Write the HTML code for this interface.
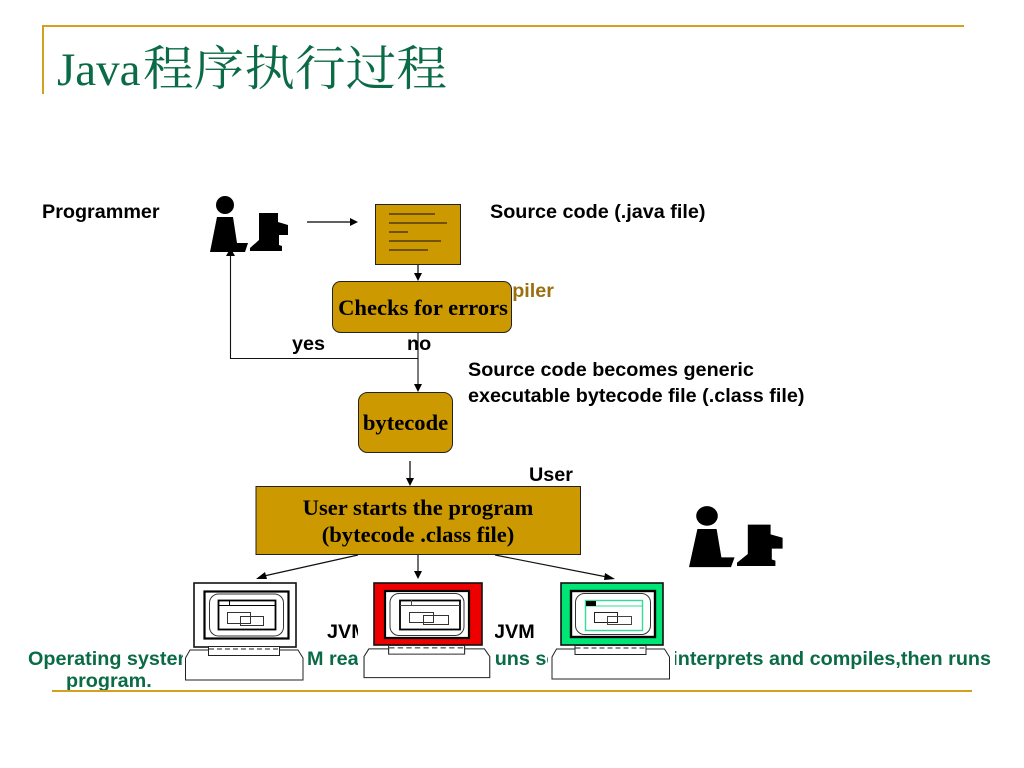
<!DOCTYPE html>
<html><head><meta charset="utf-8"><style>
html,body{margin:0;padding:0;background:#fff;overflow:hidden}
svg{display:block}
.a{font-family:"Liberation Sans",sans-serif;font-weight:bold;font-size:19.8px;fill:#000}
.g{font-family:"Liberation Sans",sans-serif;font-weight:bold;font-size:19.8px;fill:#0b6b47}
.s{font-family:"Liberation Serif",serif;font-weight:bold;font-size:22.6px;fill:#000}
</style></head><body>
<svg width="1024" height="768" viewBox="0 0 1024 768" xmlns="http://www.w3.org/2000/svg">
<defs>
<g id="person">
<circle cx="15" cy="10" r="9"/>
<path d="M7 22H23L27 48H38L35 57H0Z"/>
<path d="M49 18H68V27L78 30V40H69V50L72 51V56H40V53L49 45Z"/>
</g>
<g id="screen">
<rect x="0" y="0" width="84" height="47" fill="#fff" stroke="#000" stroke-width="2.2"/>
<rect x="5" y="2.500" width="74" height="42" rx="9" fill="#fff" stroke="#333" stroke-width="1"/>
</g>
<g id="base">
<path d="M0.500 12L5 4H113L118 12V34H0.500Z" fill="#fff" stroke="#222" stroke-width="1"/>
<rect x="23.500" y="0.500" width="71" height="9" fill="#fff" stroke="#222" stroke-width="1"/>
<path d="M24 3H94" stroke="#222" stroke-width="1" stroke-dasharray="5 3" fill="none"/>
</g>
</defs>

<!-- title frame -->
<path d="M964 26H43V94" fill="none" stroke="#d4a11e" stroke-width="2"/>
<text x="57" y="85" font-family="'Liberation Serif',serif" font-size="47" fill="#0b6b47">Java</text>
<text x="143" y="85" font-family="'Liberation Serif','Noto Serif CJK SC',serif" font-size="48" fill="#0b6b47" textLength="304" lengthAdjust="spacingAndGlyphs">程序执行过程</text>

<!-- top labels -->
<text x="42" y="218" class="a">Programmer</text>
<text x="490" y="218" class="a">Source code (.java file)</text>
<use href="#person" x="210" y="195"/>
<path d="M307 222H350" stroke="#000" stroke-width="1.2"/>
<path d="M350 218L358 222L350 226Z"/>

<!-- source doc -->
<rect x="375.500" y="204.500" width="85" height="60" fill="#cc9900" stroke="#222" stroke-width="1"/>
<g stroke="#3a2800" stroke-width="1.200">
<path d="M389 214H435M389 223H447M389 232H408M389 241H441M389 250H428"/>
</g>
<path d="M418 265V274" stroke="#000" stroke-width="1.200"/>
<path d="M414 273H422L418 281Z"/>

<!-- compiler -->
<text x="554" y="297" text-anchor="end" font-family="'Liberation Sans',sans-serif" font-weight="bold" font-size="19.800" fill="#9a6f10">Compiler</text>
<rect x="332.500" y="281.500" width="179" height="51" rx="8" fill="#cc9900" stroke="#222" stroke-width="1"/>
<text x="423" y="315" class="s" text-anchor="middle">Checks for errors</text>

<text x="292" y="350" class="a">yes</text>
<text x="407" y="350" class="a">no</text>

<path d="M418 333V385M418 358.500H230.500V255" fill="none" stroke="#111" stroke-width="1.100"/>
<path d="M414 384H422L418 392Z"/>
<path d="M226 256L230.500 248L235 256Z"/>

<text x="468" y="376" class="a">Source code becomes generic</text>
<text x="468" y="402" class="a">executable bytecode file (.class file)</text>

<!-- bytecode -->
<rect x="358.500" y="392.500" width="94" height="60" rx="9" fill="#cc9900" stroke="#222" stroke-width="1"/>
<text x="405.500" y="430" class="s" text-anchor="middle">bytecode</text>
<path d="M410 461V479" stroke="#000" stroke-width="1.200"/>
<path d="M406 478H414L410 486Z"/>

<text x="529" y="481" class="a">User</text>
<rect x="256" y="486.500" width="324.500" height="68" fill="#cc9900" stroke="#222" stroke-width="1"/>
<text x="418" y="515" class="s" text-anchor="middle">User starts the program</text>
<text x="418" y="542" class="s" text-anchor="middle">(bytecode .class file)</text>

<g transform="translate(689 505) scale(1.2 1.09)"><use href="#person"/></g>

<!-- arrows to computers -->
<path d="M358 555L264 576M418 555V572M495 555L607 577" stroke="#111" stroke-width="1.200" fill="none"/>
<path d="M256 579L265 572L267 579Z"/>
<path d="M414 571H422L418 579Z"/>
<path d="M615 579L605 573L604 580Z"/>

<!-- green text (behind computers) -->
<text x="28" y="665" class="g">Operating system's</text>
<text x="307" y="665" class="g">M reads and</text>
<text x="487" y="665" class="g">runs sequentially,</text>
<text x="991" y="665" class="g" text-anchor="end">interprets and compiles,then runs</text>
<text x="66" y="687" class="g">program.</text>
<text x="327" y="638" class="a">JVM</text>
<text x="494" y="638" class="a">JVM</text>

<!-- bottom rule -->
<path d="M52 691H972" stroke="#d4a11e" stroke-width="2"/>

<!-- white backings of the computer pictures -->
<rect x="183" y="581" width="124" height="101" fill="#fff"/>
<rect x="358" y="581" width="137" height="101" fill="#fff"/>
<rect x="548" y="581" width="127" height="101" fill="#fff"/>

<!-- computer 1 -->
<rect x="194" y="583" width="102" height="64" fill="#fff" stroke="#111" stroke-width="1.600"/>
<use href="#screen" x="204.500" y="591.500"/>
<rect x="218.500" y="600.500" width="57" height="29" fill="#fff" stroke="#000" stroke-width="1.800"/>
<path d="M218 605.500H276M229.500 600V605" stroke="#000" stroke-width="1"/>
<rect x="227.500" y="612.500" width="23" height="11" fill="none" stroke="#333" stroke-width="1"/>
<rect x="240.500" y="616.500" width="23" height="9" fill="none" stroke="#333" stroke-width="1"/>
<use href="#base" x="185" y="646"/>

<!-- computer 2 -->
<rect x="374" y="583" width="108" height="62" fill="#ee0000" stroke="#111" stroke-width="1.600"/>
<use href="#screen" x="385" y="591"/>
<rect x="400" y="600.500" width="60" height="29" fill="#fff" stroke="#000" stroke-width="1.800"/>
<path d="M400 605.500H460M411.500 600V605" stroke="#444" stroke-width="1"/>
<rect x="409.500" y="612.500" width="24" height="10" fill="none" stroke="#333" stroke-width="1"/>
<rect x="423.500" y="615.500" width="25" height="9" fill="none" stroke="#333" stroke-width="1"/>
<g transform="translate(363.500 645) scale(1.070 0.960)"><use href="#base"/></g>

<!-- computer 3 -->
<rect x="561" y="583" width="102" height="62" fill="#00e676" stroke="#111" stroke-width="1.600"/>
<rect x="571" y="591" width="84" height="46" fill="#fff" stroke="#000" stroke-width="2.400"/>
<rect x="575.500" y="593.500" width="75" height="41" rx="9" fill="#fff" stroke="#333" stroke-width="1"/>
<rect x="585.500" y="600.500" width="57" height="30" fill="#fff" stroke="#33dd99" stroke-width="1.400"/>
<path d="M585 606H643" stroke="#33dd99" stroke-width="1"/>
<rect x="586" y="601" width="10" height="5"/>
<rect x="594.500" y="612.500" width="23" height="10" fill="none" stroke="#222" stroke-width="1"/>
<rect x="607.500" y="616.500" width="24" height="8" fill="none" stroke="#444" stroke-width="1"/>
<use href="#base" x="551.500" y="645"/>
</svg>
</body></html>
